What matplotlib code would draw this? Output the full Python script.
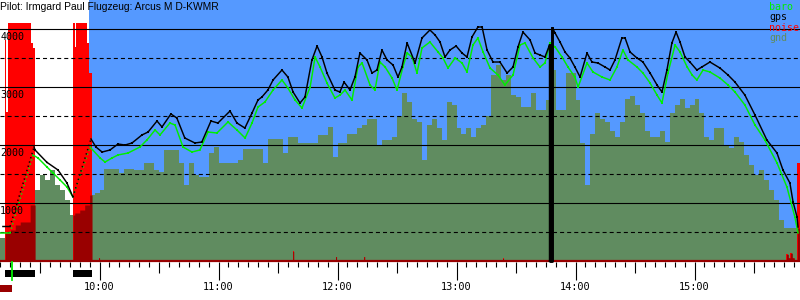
import numpy as np
import matplotlib
matplotlib.use("Agg")
import matplotlib.pyplot as plt
from matplotlib.patches import Rectangle

plt.rcParams['lines.scale_dashes'] = False

TITLE = "Pilot: Irmgard Paul Flugzeug: Arcus M D-KWMR"
hour_labels = ["10:00", "11:00", "12:00", "13:00", "14:00", "15:00"]
alt_labels = [1000, 2000, 3000, 4000]
legend_names = ["baro", "gps", "noise", "gnd"]

# time axis: minutes after 10:00, altitudes in metres
gps_min = [-48.7, -45.1, -33.0, -32.5, -26.5, -20.9, -16.4, -13.4, -4.3, -1.8,
           1.3, 5.3, 9.3, 12.9, 16.4, 21.4, 24.5, 29.0, 31.5, 36.0,
           39.0, 43.0, 48.1, 51.6, 56.2, 59.7, 65.8, 69.3, 73.3, 76.9,
           79.9, 81.9, 84.9, 87.5, 92.0, 95.0, 97.6, 101.1, 103.6, 107.1,
           109.7, 112.2, 114.7, 118.7, 121.2, 123.3, 126.3, 128.8, 131.3, 134.9,
           137.4, 139.9, 142.4, 145.0, 148.0, 150.5, 152.5, 155.1, 159.1, 162.6,
           166.6, 169.2, 171.7, 174.2, 176.7, 179.8, 182.8, 185.3, 187.8, 190.8,
           192.9, 195.4, 198.4, 201.9, 205.5, 208.5, 211.0, 213.5, 217.1, 219.6,
           222.1, 224.6, 226.9, 226.9, 228.4, 228.4, 229.7, 232.2, 234.7, 237.2,
           239.7, 242.3, 245.8, 248.3, 251.3, 254.9, 257.4, 259.9, 263.4, 265.0,
           267.5, 271.0, 274.0, 277.6, 281.1, 283.6, 286.1, 288.6, 290.7, 292.7,
           295.2, 297.7, 301.2, 303.7, 307.8, 312.8, 316.9, 320.4, 325.4, 330.5,
           336.5, 341.6, 344.6, 348.1, 349.7, 351.7, 352.2]
gps_alt = [600, 600, 1971, 1919, 1706, 1574, 1350, 1109, 2109, 1971,
           1884, 1919, 2022, 2005, 2040, 2178, 2229, 2419, 2316, 2540,
           2471, 2126, 2040, 2057, 2419, 2384, 2591, 2384, 2298, 2557,
           2781, 2833, 2953, 3126, 3298, 3177, 2919, 2729, 2833, 3471,
           3712, 3522, 3246, 2953, 2919, 3091, 2953, 3177, 3591, 3471,
           3246, 3298, 3643, 3471, 3384, 3177, 3350, 3764, 3419, 3850,
           3988, 3902, 3781, 3522, 3643, 3712, 3591, 3522, 3867, 4040,
           4040, 3643, 3436, 3436, 3246, 3350, 3695, 3953, 3816, 3591,
           3557, 3522, 3729, 0, 0, 4023, 3936, 3781, 3609, 3505,
           3350, 3177, 3591, 3436, 3419, 3350, 3298, 3471, 3850, 3850,
           3609, 3505, 3436, 3246, 3040, 2919, 3298, 3764, 3953, 3781,
           3522, 3436, 3298, 3350, 3436, 3333, 3212, 3091, 2867, 2522,
           2091, 1867, 1574, 1350, 1022, 764, 591]

baro_min = [-50.2, -45.1, -33.5, -31.0, -26.5, -23.4, -19.9, -16.4, -13.4, -4.8,
            0.3, 2.8, 6.3, 9.3, 14.4, 20.4, 23.9, 28.0, 30.5, 35.5,
            38.1, 42.1, 46.6, 50.6, 54.7, 59.2, 64.8, 69.3, 73.4, 76.9,
            79.9, 83.4, 87.5, 92.0, 95.0, 98.6, 102.1, 106.2, 108.7, 111.2,
            114.7, 118.7, 121.3, 123.8, 127.3, 130.3, 132.4, 136.4, 138.9, 141.4,
            144.0, 147.5, 150.0, 153.0, 155.1, 157.6, 160.1, 162.6, 166.6, 170.7,
            173.2, 175.7, 179.3, 182.8, 185.3, 188.3, 190.8, 193.4, 196.9, 200.9,
            204.4, 208.5, 212.0, 214.5, 218.6, 222.1, 224.6, 227.1, 229.7, 233.2,
            236.2, 239.7, 241.3, 245.8, 248.8, 253.4, 257.4, 260.9, 263.9, 266.5,
            271.0, 274.0, 277.6, 281.1, 283.6, 286.6, 290.2, 292.7, 296.3, 298.8,
            301.2, 304.3, 307.8, 312.8, 316.9, 320.4, 325.4, 330.5, 335.5, 341.6,
            346.6, 350.6, 352.2]
baro_alt = [488, 488, 1833, 1781, 1626, 1522, 1402, 1281, 1109, 1971,
            1781, 1712, 1781, 1833, 1867, 1971, 2091, 2264, 2178, 2384,
            2350, 1971, 1884, 1919, 2229, 2212, 2402, 2264, 2126, 2384,
            2660, 2746, 2953, 3126, 2988, 2781, 2643, 3005, 3522, 3350,
            3074, 2815, 2867, 2953, 2781, 3350, 3419, 3040, 2953, 3436,
            3350, 3160, 2953, 3350, 3591, 3522, 3246, 3678, 3781, 3609,
            3505, 3333, 3505, 3419, 3264, 3729, 3850, 3609, 3333, 3212,
            3040, 3212, 3729, 3764, 3505, 3350, 3419, 3764, 3695, 3522,
            3350, 3177, 3005, 3419, 3264, 3177, 3126, 3350, 3643, 3471,
            3350, 3246, 3074, 2867, 2729, 3246, 3729, 3609, 3350, 3212,
            3126, 3298, 3264, 3160, 3040, 2919, 2695, 2350, 2091, 1695,
            1281, 764, 488]

# terrain under the glider, one value every 2.5 min starting 09:10
gnd_start_min = -50.0
gnd_step_min = 2.5
gnd_alt = [402, 488, 540, 626, 678, 678, 971, 1229, 1488, 1402,
           1574, 1316, 1229, 1057, 798, 833, 884, 971, 1143, 1178,
           1229, 1591, 1591, 1591, 1522, 1591, 1591, 1574, 1574, 1695,
           1695, 1574, 1540, 1919, 1919, 1919, 1695, 1316, 1695, 1488,
           1453, 1453, 1867, 1971, 1695, 1695, 1695, 1695, 1747, 1936,
           1936, 1936, 1936, 1695, 2109, 2109, 2109, 1867, 2143, 2143,
           2040, 2040, 2040, 2040, 2178, 2178, 2316, 1798, 2040, 2040,
           2200, 2200, 2300, 2350, 2450, 2450, 2000, 2100, 2100, 2150,
           2500, 2900, 2750, 2450, 2400, 1750, 2350, 2450, 2300, 2100,
           2750, 2700, 2300, 2200, 2300, 2150, 2300, 2350, 2500, 3212,
           3384, 3126, 3212, 2867, 2833, 2660, 2660, 2902, 2609, 2609,
           2781, 3298, 2609, 2609, 3246, 3246, 2781, 2040, 1316, 2200,
           2550, 2450, 2400, 2250, 2150, 2400, 2800, 2850, 2700, 2550,
           2250, 2150, 2150, 2250, 2050, 2550, 2700, 2800, 2650, 2700,
           2800, 2550, 2150, 2100, 2300, 2300, 2000, 1950, 2150, 2050,
           1833, 1660, 1488, 1574, 1402, 1229, 1057, 712, 574, 574,
           574, 574, 540, 316]

# engine noise level (plotted on the altitude scale), step changes
noise_min = [-47.6, -47.1, -46.1, -34.3, -33.5, -32.5, -13.4, -12.4, -12.0, -6.1,
             -5.5, -3.8, -0.5, 0.0, 97.4, 97.9, 119.0, 119.5, 133.2, 133.7,
             203.2, 203.7, 346.3, 347.3, 348.3, 349.3, 350.3, 351.8, 353.5]
noise_lvl = [3815, 2572, 4109, 3764, 3678, 0, 4109, 3695, 4109, 3764,
             3243, 0, 60, 0, 170, 0, 80, 0, 80, 0,
             50, 0, 120, 60, 140, 60, 0, 1690, 1690]

engine_runs = [(-47.6, -32.5), (-13.4, -3.8)]
flight_start_min = -5.3
release_min = -44.2

BLUE = "#5599ff"
GND = "#608c60"
RED = "#ff0000"
DARKRED = "#990000"
GREEN = "#00ee00"

# pixel -> data helpers (layout only)
X0, PXM = 99.5, 119.0 / 60.0
Y0, PYM = 261.3, 0.058
def px_x(px):
    return (px - X0) / PXM
def px_y(py):
    return (Y0 - py) / PYM

fig = plt.figure(figsize=(8, 3), dpi=100, facecolor="white")
ax = fig.add_axes([0, 0, 1, 1])
xmin, xmax = px_x(0), px_x(800)
ymin, ymax = px_y(300), px_y(0)
ax.set_xlim(xmin, xmax)
ax.set_ylim(ymin, ymax)
ax.axis("off")

# flight background
ax.fill_between([flight_start_min, xmax], 0, ymax, color=BLUE, lw=0, zorder=1)

# ground
g_t = gnd_start_min + gnd_step_min * np.arange(len(gnd_alt) + 1)
g_v = np.append(gnd_alt, gnd_alt[-1])
ax.fill_between(g_t, 0, g_v, step="post", color=GND, lw=0, zorder=2)

# noise
ax.fill_between(noise_min, 0, noise_lvl, step="post", color=RED, lw=0, zorder=3)

# overlap of noise and ground drawn dark red
fine = np.arange(xmin, xmax, 0.05)
gi = np.clip(np.searchsorted(g_t, fine, side="right") - 1, 0, len(g_v) - 1)
gf = np.where((fine >= g_t[0]), g_v[gi], 0)
ni = np.searchsorted(noise_min, fine, side="right") - 1
nf = np.where(ni >= 0, np.array(noise_lvl)[np.clip(ni, 0, None)], 0)
ov = np.where(nf > 0, np.minimum(gf, nf), 0)
ax.fill_between(fine, 0, ov, step="post", color=DARKRED, lw=0, zorder=4)

# ground line
ax.plot([xmin, xmax], [0, 0], color=DARKRED, lw=1.6, zorder=5, solid_capstyle="butt")

# grid lines
for a in [1000, 2000, 3000, 4000]:
    ax.plot([xmin, xmax], [a, a], color="black", lw=0.8, zorder=6)
for a in [500, 1500, 2500, 3500]:
    ax.plot([xmin, xmax], [a, a], color="black", lw=0.8, zorder=6,
            dashes=(2.9, 2.2))

def split_runs(tm, al):
    tm = np.asarray(tm, float); al = np.asarray(al, float)
    sx, sy, dx, dy = [], [], [], []
    for i in range(len(tm) - 1):
        mid = 0.5 * (tm[i] + tm[i + 1])
        climb = al[i + 1] > al[i] + 300 and any(s <= mid <= e for s, e in engine_runs)
        if climb:
            dx += [tm[i], tm[i + 1], np.nan]; dy += [al[i], al[i + 1], np.nan]
        else:
            sx += [tm[i], tm[i + 1], np.nan]; sy += [al[i], al[i + 1], np.nan]
    return sx, sy, dx, dy

for tm, al, col, z in [(baro_min, baro_alt, GREEN, 7), (gps_min, gps_alt, "black", 8)]:
    sx, sy, dx, dy = split_runs(tm, al)
    ax.plot(sx, sy, color=col, lw=1.05, zorder=z, solid_joinstyle="miter")
    ax.plot(dx, dy, color=col, lw=1.1, zorder=z, linestyle=(0, (1, 2.2)))

# gps dropout drawn heavier
ga = np.asarray(gps_alt); gm = np.asarray(gps_min)
idx = np.where(ga == 0)[0]
sel = np.arange(idx.min() - 1, idx.max() + 2)
ax.plot(gm[sel], ga[sel], color="black", lw=2.1, zorder=8)

# time ticks
tick_top = px_y(262)
for m in range(-50, 355, 5):
    if m % 60 == 0:
        bot = px_y(280)
    elif m % 30 == 0:
        bot = px_y(273)
    else:
        bot = px_y(267)
    ax.plot([m, m], [tick_top, bot], color="black", lw=0.8, zorder=6,
            solid_capstyle="butt")
for i, lab in enumerate(hour_labels):
    ax.text(60 * i, px_y(287), lab, ha="center", va="center",
            family="DejaVu Sans Mono", fontsize=7.4, color="black", zorder=9)

# altitude labels
for a in alt_labels:
    ax.text(xmin + 0.1, a - 125, str(a), ha="left", va="center",
            family="DejaVu Sans Mono", fontsize=7.2, color="black", zorder=9)

# engine-run bars and markers
for s, e in engine_runs:
    ax.add_patch(Rectangle((s, px_y(277)), e - s, px_y(270) - px_y(277),
                           color="black", lw=0, zorder=6))
ax.plot([release_min, release_min], [px_y(262), px_y(280)], color=GREEN, lw=1.3, zorder=7)
ax.add_patch(Rectangle((xmin, px_y(292)), px_x(12) - xmin, px_y(285) - px_y(292),
                       color=DARKRED, lw=0, zorder=6))

# legend
leg_cols = [GREEN, "black", RED, GND]
for i, (nm, c) in enumerate(zip(legend_names, leg_cols)):
    ax.text(px_x(769), px_y(7 + 10.5 * i), nm, ha="left", va="center",
            family="DejaVu Sans Mono", fontsize=7.2, color=c, zorder=9)

# title
ax.text(xmin + 0.1, px_y(1.5), TITLE, ha="left", va="top",
        family="Liberation Sans", fontsize=7.4, color="black", zorder=9)

fig.savefig("out.png", dpi=100, facecolor="white")
